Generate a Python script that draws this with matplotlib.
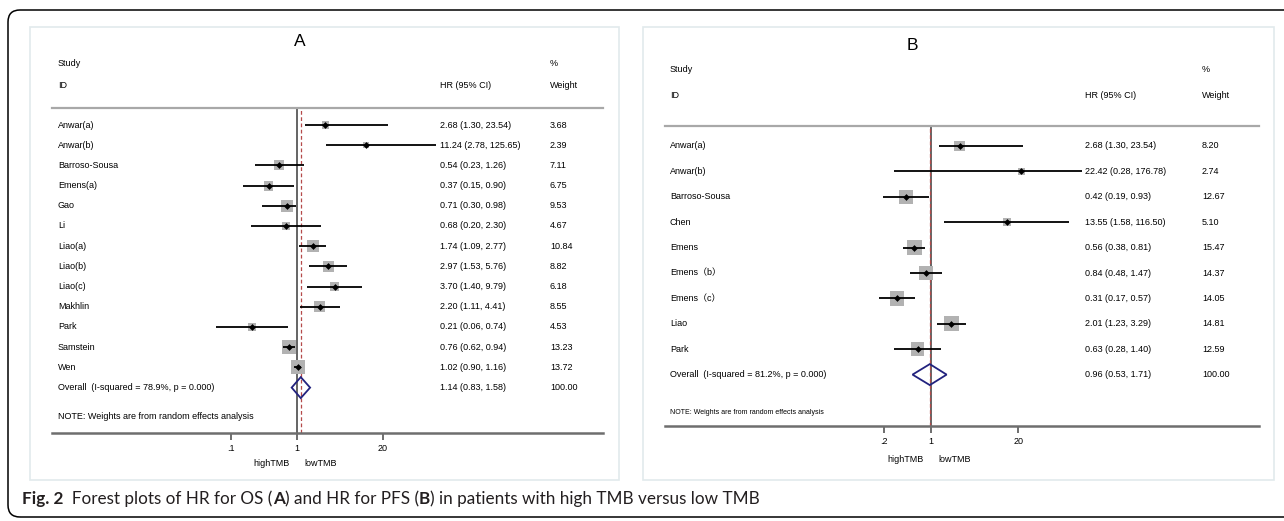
import numpy as np
import matplotlib.pyplot as plt
from matplotlib.patches import Rectangle, FancyBboxPatch, Polygon
from matplotlib.transforms import IdentityTransform, blended_transform_factory

plt.rcParams['font.family'] = ['Liberation Sans', 'Noto Sans CJK SC']

W, H = 1284, 521

# ---- A: HR for OS ----
os_study = ['Anwar(a)', 'Anwar(b)', 'Barroso-Sousa', 'Emens(a)', 'Gao', 'Li', 'Liao(a)',
            'Liao(b)', 'Liao(c)', 'Makhlin', 'Park', 'Samstein', 'Wen']
os_hr = [2.68, 11.24, 0.54, 0.37, 0.71, 0.68, 1.74, 2.97, 3.70, 2.20, 0.21, 0.76, 1.02]
os_lo = [1.30, 2.78, 0.23, 0.15, 0.30, 0.20, 1.09, 1.53, 1.40, 1.11, 0.06, 0.62, 0.90]
os_hi = [23.54, 125.65, 1.26, 0.90, 0.98, 2.30, 2.77, 5.76, 9.79, 4.41, 0.74, 0.94, 1.16]
os_weight = [3.68, 2.39, 7.11, 6.75, 9.53, 4.67, 10.84, 8.82, 6.18, 8.55, 4.53, 13.23, 13.72]
os_overall = [1.14, 0.83, 1.58]
os_overall_label = 'Overall  (I-squared = 78.9%, p = 0.000)'
os_ticks = [0.1, 1, 20]
os_ticklabels = ['.1', '1', '20']

# ---- B: HR for PFS ----
pfs_study = ['Anwar(a)', 'Anwar(b)', 'Barroso-Sousa', 'Chen', 'Emens', 'Emens（b）',
             'Emens（c）', 'Liao', 'Park']
pfs_hr = [2.68, 22.42, 0.42, 13.55, 0.56, 0.84, 0.31, 2.01, 0.63]
pfs_lo = [1.30, 0.28, 0.19, 1.58, 0.38, 0.48, 0.17, 1.23, 0.28]
pfs_hi = [23.54, 176.78, 0.93, 116.50, 0.81, 1.47, 0.57, 3.29, 1.40]
pfs_weight = [8.20, 2.74, 12.67, 5.10, 15.47, 14.37, 14.05, 14.81, 12.59]
pfs_overall = [0.96, 0.53, 1.71]
pfs_overall_label = 'Overall  (I-squared = 81.2%, p = 0.000)'
pfs_ticks = [0.2, 1, 20]
pfs_ticklabels = ['.2', '1', '20']

note = 'NOTE: Weights are from random effects analysis'

fig = plt.figure(figsize=(W / 100, H / 100), dpi=100)


def ptext(x, y, s, **kw):
    # text placed in image pixels (origin top-left)
    return fig.text(x / W, 1 - y / H, s, **kw)


def forest(letter, study, hr, lo, hi, weight, overall, overall_label, ticks, ticklabels,
           box, x0, x1, one_px, decade, y0, y1, row0, step, cols, head_y, title_pos,
           fs=6.5, note_fs=6.5):
    bx0, by0, bx1, by1 = box
    fig.add_artist(Rectangle((bx0, H - by1), bx1 - bx0, by1 - by0, transform=IdentityTransform(),
                             fill=False, ec='#e2eaec', lw=1.2))
    ptext(title_pos[0], title_pos[1], letter, fontsize=12.5, ha='center', va='center')

    ax = fig.add_axes([x0 / W, 1 - y1 / H, (x1 - x0) / W, (y1 - y0) / H])
    ax.set_xscale('log')
    ax.set_xlim(10 ** ((x0 - one_px) / decade), 10 ** ((x1 - one_px) / decade))
    ax.set_ylim((y1 - row0) / step, (y0 - row0) / step)
    ax.patch.set_alpha(0)
    for side in ('left', 'right'):
        ax.spines[side].set_visible(False)
    ax.spines['top'].set_color('#a8a8a8')
    ax.spines['top'].set_linewidth(1.6)
    ax.spines['bottom'].set_color('#6e6e6e')
    ax.spines['bottom'].set_linewidth(1.8)
    ax.set_yticks([])
    ax.minorticks_off()
    ax.set_xticks(ticks)
    ax.set_xticklabels(ticklabels)
    ax.tick_params(axis='x', direction='out', length=5, width=1.2, color='#555555',
                   labelsize=fs, pad=3)

    rows = np.arange(len(study))
    n = len(study)

    ax.axvline(1, color='#4a4a4a', lw=1.2, zorder=1)
    ax.axvline(overall[0], color='#b54a4a', lw=0.9, ls=(0, (3, 2)), zorder=1.5)

    side_pt = 3.8 * np.sqrt(np.array(weight)) * 0.72
    ax.scatter(hr, rows, marker='s', s=side_pt ** 2, color='#b2b2b2', lw=0, zorder=2)
    ax.hlines(rows, lo, hi, color='black', lw=1.3, zorder=3)
    ax.scatter(hr, rows, marker='D', s=12, color='black', lw=0, zorder=4)

    est, clo, chi = overall
    h = 10.5 / step
    ax.add_patch(Polygon([(clo, n), (est, n - h), (chi, n), (est, n + h)], closed=True,
                         fill=False, ec='#22227e', lw=1.3, zorder=4))

    tr = blended_transform_factory(ax.transAxes, ax.transData)
    cx = [(c - x0) / (x1 - x0) for c in cols]
    labels = study + [overall_label]
    hr_text = ['%.2f (%.2f, %.2f)' % v for v in zip(hr, lo, hi)]
    hr_text.append('%.2f (%.2f, %.2f)' % (est, clo, chi))
    wt_text = ['%.2f' % w for w in weight] + ['100.00']
    for i in range(n + 1):
        ax.text(cx[0], i, labels[i], transform=tr, fontsize=fs, va='center')
        ax.text(cx[1], i, hr_text[i], transform=tr, fontsize=fs, va='center')
        ax.text(cx[2], i, wt_text[i], transform=tr, fontsize=fs, va='center')
    ax.text(cx[0], (head_y[2] - row0) / step, note, transform=tr, fontsize=note_fs, va='center')

    ptext(cols[0], head_y[0], 'Study', fontsize=fs, va='center')
    ptext(cols[0], head_y[1], 'ID', fontsize=fs, va='center')
    ptext(cols[1], head_y[1], 'HR (95% CI)', fontsize=fs, va='center')
    ptext(cols[2], head_y[0], '%', fontsize=fs, va='center')
    ptext(cols[2], head_y[1], 'Weight', fontsize=fs, va='center')

    lab_y = head_y[3]
    ax.annotate('highTMB', xy=(1, 0), xycoords=('data', 'axes fraction'),
                xytext=(-7, -lab_y), textcoords='offset pixels', ha='right', va='center',
                fontsize=fs)
    ax.annotate('lowTMB', xy=(1, 0), xycoords=('data', 'axes fraction'),
                xytext=(7, -lab_y), textcoords='offset pixels', ha='left', va='center',
                fontsize=fs)
    return ax


forest('A', os_study, os_hr, os_lo, os_hi, os_weight, os_overall, os_overall_label,
       os_ticks, os_ticklabels, box=(30, 27, 619, 480), x0=52, x1=603, one_px=297,
       decade=66, y0=108, y1=433, row0=125, step=20.2, cols=(58, 440, 550),
       head_y=(63, 85, 417, 30), title_pos=(300, 42))

forest('B', pfs_study, pfs_hr, pfs_lo, pfs_hi, pfs_weight, pfs_overall, pfs_overall_label,
       pfs_ticks, pfs_ticklabels, box=(643, 27, 1274, 480), x0=665, x1=1259, one_px=931,
       decade=67, y0=126, y1=426, row0=146, step=25.4, cols=(670, 1085, 1202),
       head_y=(69, 95, 412, 33), title_pos=(912, 45), note_fs=5)

# outer frame, open to the right
fig.add_artist(FancyBboxPatch((8, H - 517), 1400, 507, boxstyle='round,pad=0,rounding_size=12',
                              transform=IdentityTransform(), fill=False, ec='black', lw=1.1))

# caption
renderer = fig.canvas.get_renderer()
pieces = [('Fig. 2', 'bold'), ('  Forest plots of HR for OS (', 'normal'), ('A', 'bold'),
          (') and HR for PFS (', 'normal'), ('B', 'bold'),
          (') in patients with high TMB versus low TMB', 'normal')]
x = 22
for s, wt in pieces:
    t = fig.text(x / W, 1 - 504 / H, s, fontsize=12.3, fontweight=wt, family='Lato',
                 va='baseline', color='#231f20')
    x += t.get_window_extent(renderer).width

fig.savefig('out.png', dpi=100)
